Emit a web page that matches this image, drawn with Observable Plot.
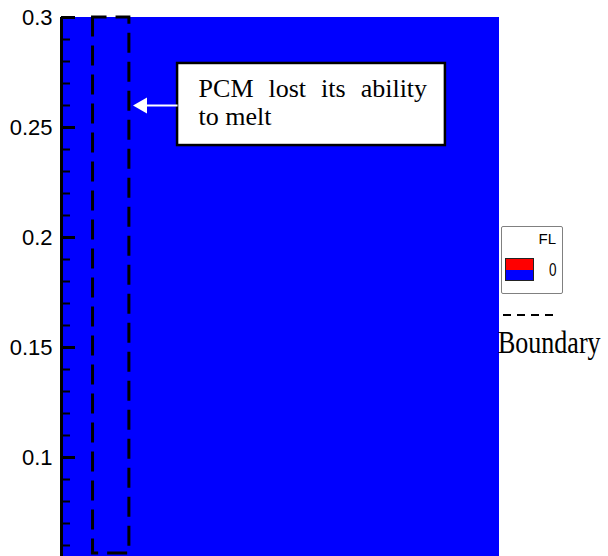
<!DOCTYPE html>
<html><head><meta charset="utf-8">
<script src="https://cdn.jsdelivr.net/npm/d3@7"></script>
<script src="https://cdn.jsdelivr.net/npm/@observablehq/plot@0.6"></script>
<style>
body{margin:0;background:#fff;}
#wrap{position:relative;width:608px;height:556px;overflow:hidden;background:#fff;}
#legend{position:absolute;left:501px;top:226px;width:62px;height:68px;border:1.5px solid #808080;border-radius:2px;background:#fff;box-sizing:border-box;font-family:"Liberation Sans",Arial,sans-serif;}
#legend .ttl{position:absolute;right:6px;top:3px;font-size:15px;color:#000;}
#legend .sw{position:absolute;left:3px;top:31px;width:29px;height:23px;border:1px solid #222;box-sizing:border-box;}
#legend .sw div{height:50%;}
#legend .lab{position:absolute;left:47px;top:33px;font-size:18px;transform:scaleX(0.75);transform-origin:left top;}
#bnd{position:absolute;left:503px;top:305px;}
#bndtxt{position:absolute;left:498px;top:325px;font-family:"Liberation Serif","Times New Roman",serif;font-size:26px;line-height:30px;white-space:nowrap;transform:scaleY(1.2);transform-origin:left top;}
</style></head><body><div id="wrap"></div>
<script>
// Domain of the plotted field (metres)
const xDomain = [0, 0.2];
const yDomain = [0.055, 0.3];
// FL (liquid fraction) field: zero everywhere in the shown region
const fieldX1 = [0];
const fieldX2 = [0.2];
const fieldY1 = [0.055];
const fieldY2 = [0.3];
const fieldFL = [0];
// contour legend level
const flLevels = [0];
// axis ticks
const majorTicks = [0.1, 0.15, 0.2, 0.25, 0.3];
const majorLabels = ["0.1", "0.15", "0.2", "0.25", "0.3"];
const minorTicks = [0.06, 0.07, 0.08, 0.09, 0.11, 0.12, 0.13, 0.14, 0.16, 0.17, 0.18, 0.19,
                    0.21, 0.22, 0.23, 0.24, 0.26, 0.27, 0.28, 0.29];
// dashed boundary box (data coordinates)
const boundaryX = [0.0144, 0.031];
const boundaryY = [0.0564, 0.3];
// annotation
const noteLines = ["PCM lost its ability", "to melt"];
const noteBoxX = [0.053, 0.1753];
const noteBoxY = [0.2418, 0.2791];
const noteTextX = 0.0626;
const noteLineY = [0.26364, 0.25091];
const arrowY = 0.26;
const arrowFromX = 0.053;
const arrowToX = 0.0384;
const arrowTipX = 0.0369;

const flColor = v => v > 0 ? "#ff0000" : "#0000ff";

const field = fieldFL.map((fl, i) => ({x1: fieldX1[i], x2: fieldX2[i], y1: fieldY1[i], y2: fieldY2[i], fl}));
const box = [{x1: boundaryX[0], x2: boundaryX[1], y1: boundaryY[0], y2: boundaryY[1]}];
const noteBox = [{x1: noteBoxX[0], x2: noteBoxX[1], y1: noteBoxY[0], y2: noteBoxY[1]}];
const notes = noteLines.map((t, i) => ({t, x: noteTextX, y: noteLineY[i]}));
const labelOf = new Map(majorTicks.map((t, i) => [t, majorLabels[i]]));

const W = 608, H = 556, ML = 61, MR = 109, MT = 17, MB = 0;
const plotW = W - ML - MR;

const chart = Plot.plot({
  width: W, height: H,
  marginLeft: ML, marginRight: MR, marginTop: MT, marginBottom: MB,
  x: {domain: xDomain, axis: null},
  y: {domain: yDomain, axis: null},
  style: {background: "transparent", overflow: "visible"},
  marks: [
    Plot.rect(field, {x1: "x1", x2: "x2", y1: "y1", y2: "y2", fill: d => flColor(d.fl)}),
    Plot.rect(box, {x1: "x1", x2: "x2", y1: "y1", y2: "y2", fill: "none", stroke: "#000", strokeWidth: 3, strokeDasharray: "20,9", strokeDashoffset: 6}),
    Plot.rect(noteBox, {x1: "x1", x2: "x2", y1: "y1", y2: "y2", fill: "#fff", stroke: "#000", strokeWidth: 2.5}),
    Plot.text(notes, {x: "x", y: "y", text: "t", textAnchor: "start", lineAnchor: "bottom", fontSize: 26, fontFamily: "Liberation Serif, Times New Roman, serif", fill: "#000"}),
    Plot.link([{x1: arrowFromX, x2: arrowToX, y: arrowY}], {x1: "x1", x2: "x2", y1: "y", y2: "y", stroke: "#fff", strokeWidth: 2}),
    Plot.dot([{x: arrowTipX, y: arrowY}], {x: "x", y: "y", symbol: "triangle", r: 6, rotate: -90, fill: "#fff", stroke: "none"}),
    Plot.ruleX([xDomain[0]], {stroke: "#000", strokeWidth: 3}),
    Plot.tickY(majorTicks, {y: d => d, stroke: "#000", strokeWidth: 3, insetRight: plotW - 14}),
    Plot.tickY(minorTicks, {y: d => d, stroke: "#000", strokeWidth: 2, insetRight: plotW - 9}),
    Plot.axisY(majorTicks, {anchor: "left", tickSize: 0, tickPadding: 9, tickFormat: d => labelOf.get(d), fontSize: 22, fontFamily: "Liberation Sans, Arial, sans-serif", fill: "#000"})
  ]
});

// justify first annotation line
d3.select(chart).selectAll("text").filter(function() { return this.textContent === noteLines[0]; })
  .attr("word-spacing", "8.5px");

const wrap = document.getElementById("wrap");
wrap.appendChild(chart);

// legend for FL contour
const lg = document.createElement("div");
lg.id = "legend";
lg.innerHTML = `<div class="ttl">FL</div><div class="sw"><div style="background:${flColor(1)}"></div><div style="background:${flColor(0)}"></div></div><div class="lab">${flLevels[0]}</div>`;
wrap.appendChild(lg);

const bnd = document.createElement("div");
bnd.id = "bnd";
bnd.innerHTML = `<svg width="52" height="12"><line x1="0" y1="8" x2="50" y2="8" stroke="#000" stroke-width="2" stroke-dasharray="8,6"/></svg>`;
wrap.appendChild(bnd);
const bt = document.createElement("div");
bt.id = "bndtxt";
bt.textContent = "Boundary";
wrap.appendChild(bt);
</script>
</body></html>
